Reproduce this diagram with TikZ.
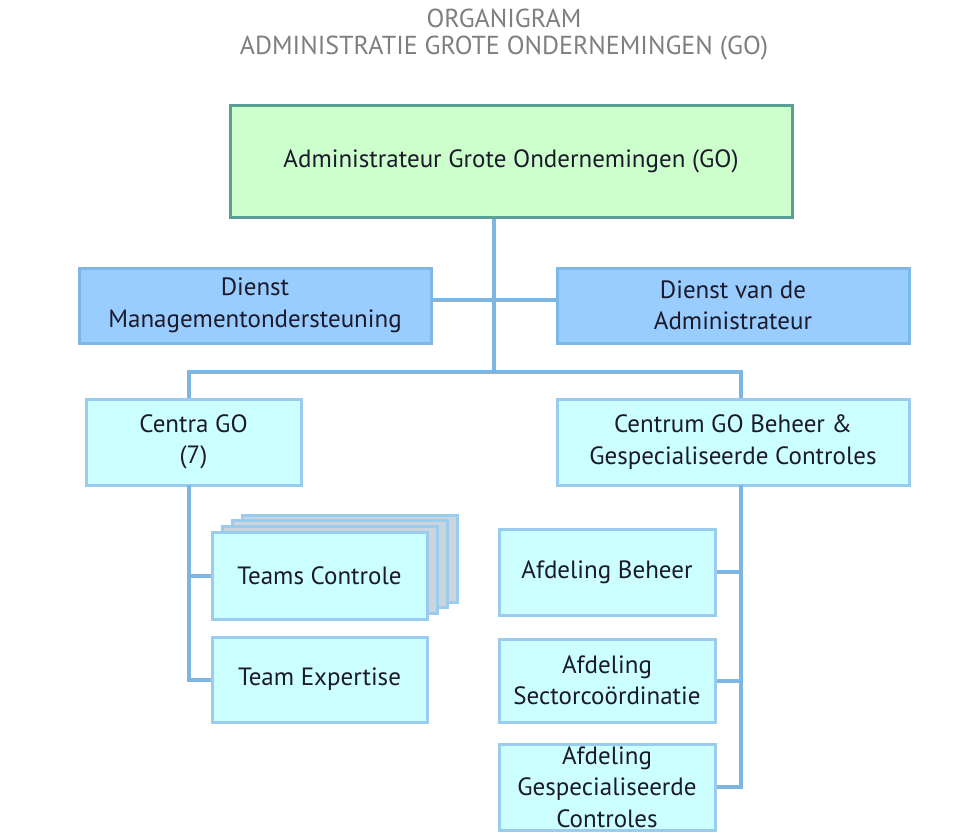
\documentclass[tikz,border=0pt]{standalone}
\usepackage{fontspec}
\setmainfont{PT Sans}
\definecolor{topfill}{HTML}{CCFFCC}
\definecolor{topdraw}{HTML}{5A9E96}
\definecolor{midfill}{HTML}{99CCFF}
\definecolor{middraw}{HTML}{7DB8E8}
\definecolor{lowfill}{HTML}{CCFFFF}
\definecolor{lowdraw}{HTML}{99CCEE}
\definecolor{conncol}{HTML}{7DB6E2}
\definecolor{txt}{HTML}{1A1A2A}
\definecolor{titlecol}{HTML}{7F7F7F}
\definecolor{stackfill}{HTML}{CCD4DC}
\begin{document}
\begin{tikzpicture}[x=1pt,y=-1pt,
  box/.style={draw, line width=3pt, inner sep=0pt, align=center, text=txt,
    font=\fontsize{25}{31.5}\selectfont},
  topbox/.style={box, fill=topfill, draw=topdraw},
  midbox/.style={box, fill=midfill, draw=middraw},
  lowbox/.style={box, fill=lowfill, draw=lowdraw},
  stackbox/.style={draw=lowdraw, fill=stackfill, line width=3pt, inner sep=0pt},
  conn/.style={draw=conncol, line width=4pt},
  titletext/.style={text=titlecol, font=\fontsize{26}{30}\selectfont}]
\useasboundingbox[fill=white] (0,0) rectangle (958,840);

\node[titletext] (t1) at (504,18) {ORGANIGRAM};
\node[titletext] (t2) at (504,48) {ADMINISTRATIE GROTE ONDERNEMINGEN (GO)};

\node[topbox, minimum width=562pt, minimum height=111pt] (top) at (511,161.5) {Administrateur Grote Ondernemingen (GO)};
\node[midbox, minimum width=352pt, minimum height=75pt] (dm) at (255,305.5) {Dienst\\Managementondersteuning};
\node[midbox, minimum width=352pt, minimum height=75pt] (da) at (733,305.5) {Dienst van de\\Administrateur};
\node[lowbox, minimum width=215pt, minimum height=86pt] (cg) at (193.5,442) {Centra GO\\(7)};
\node[lowbox, minimum width=352pt, minimum height=86pt] (cb) at (733,442) {Centrum GO Beheer \&\\Gespecialiseerde Controles};

\node[stackbox, minimum width=215pt, minimum height=87pt] (s3) at (349.5,558.5) {};
\node[stackbox, minimum width=215pt, minimum height=87pt] (s2) at (339.5,564) {};
\node[stackbox, minimum width=215pt, minimum height=87pt] (s1) at (329.5,570) {};
\node[lowbox, minimum width=215pt, minimum height=87pt] (tc) at (319.5,575.5) {Teams Controle};
\node[lowbox, minimum width=215pt, minimum height=85pt] (te) at (319.5,679.5) {Team Expertise};

\node[lowbox, minimum width=216pt, minimum height=86pt] (ab) at (607,572) {Afdeling Beheer};
\node[lowbox, minimum width=216pt, minimum height=83pt] (as) at (607,680.5) {Afdeling\\Sectorco\"ordinatie};
\node[lowbox, minimum width=216pt, minimum height=86pt] (ag) at (607,787) {Afdeling\\Gespecialiseerde\\Controles};

\coordinate (j1) at (494,372);
\coordinate (lj) at (189,372);
\coordinate (rj) at (741,372);
\coordinate (lv) at (189,485);
\coordinate (rv) at (741,485);

\draw[conn] (top.south -| j1) -- (j1);
\draw[conn] ([yshift=6pt]dm.east) -- ([yshift=6pt]da.west);
\draw[conn] (cg.north -| lj) -- (lj) -- (rj) -- (cb.north -| rj);
\draw[conn] (lv) -- (lv |- te.west) -- (te.west);
\draw[conn] (lv |- tc.west) -- (tc.west);
\draw[conn] (rv) -- (rv |- ag.east) -- (ag.east);
\draw[conn] (rv |- ab.east) -- (ab.east);
\draw[conn] (rv |- as.east) -- (as.east);
\end{tikzpicture}
\end{document}
